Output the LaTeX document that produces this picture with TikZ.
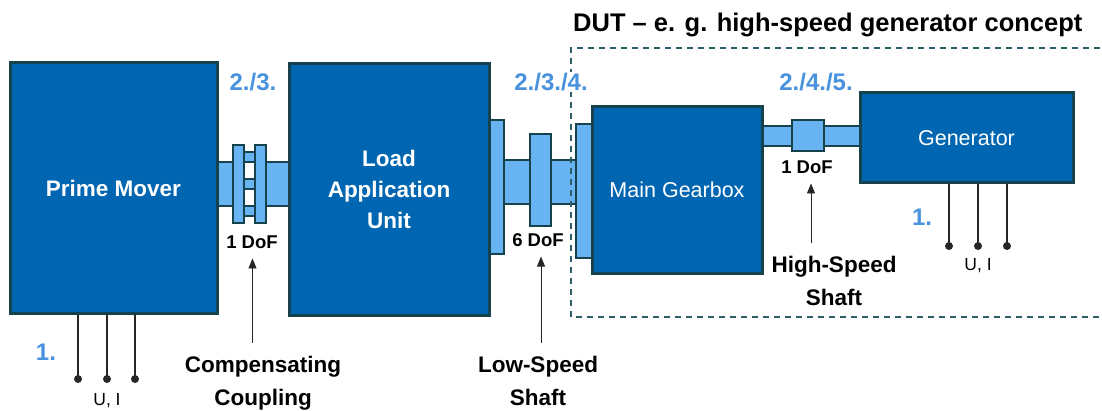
\documentclass[tikz,border=0pt]{standalone}
\usepackage{fontspec}
\setmainfont{Liberation Sans}
\usepackage{tikz}
\usetikzlibrary{arrows.meta,calc}
\definecolor{mainblue}{RGB}{0,102,178}
\definecolor{edgeteal}{RGB}{22,66,78}
\definecolor{partblue}{RGB}{104,180,242}
\definecolor{stepblue}{RGB}{72,146,222}
\definecolor{dutteal}{RGB}{45,95,105}
\newcommand{\fsz}[2]{\fontsize{#1}{#2}\selectfont}
\tikzset{
  mainblk/.style={draw=edgeteal, fill=mainblue, line width=3pt, text=white,
                  align=center, inner sep=0pt},
  shaftpart/.style={draw=edgeteal, fill=partblue, line width=1.4pt},
  steplbl/.style={text=stepblue, font=\bfseries\fsz{24}{28}, inner sep=1pt},
  doflbl/.style={font=\bfseries\fsz{18.5}{22}, inner sep=2pt, outer ysep=8pt},
  namelbl/.style={font=\bfseries\fsz{22.5}{33}, align=center, inner sep=2pt, outer ysep=11pt},
  uilbl/.style={font=\fsz{17.5}{20}, inner sep=1pt},
  ptrarr/.style={-{Triangle[length=10pt,width=8pt]}, line width=0.9pt, black!85},
  wire/.style={line width=1.2pt, black!85},
  dutline/.style={dutteal, line width=1.3pt, dash pattern=on 6pt off 5pt},
}

\begin{document}
\begin{tikzpicture}[x=1pt, y=1pt]
  \useasboundingbox (0,0) rectangle (1102,410);
  % coupling between prime mover and load unit
  \draw[shaftpart] (215,204) rectangle (233,248);
  \draw[shaftpart] (266,204) rectangle (291,248);
  \draw[shaftpart] (233,187) rectangle (244,265);
  \draw[shaftpart] (255,187) rectangle (266,265);
  \foreach \yb in {194,221,248}{\draw[shaftpart] (244,\yb) rectangle (255,\yb+10);}
  % low-speed shaft
  \draw[shaftpart] (504,206) rectangle (577,250);
  \draw[shaftpart] (489,156) rectangle (504,290);
  \draw[shaftpart] (530,184) rectangle (551,276);
  \draw[shaftpart] (576,152) rectangle (594,286);
  % high-speed shaft
  \draw[shaftpart] (760,264) rectangle (862,284);
  \draw[shaftpart] (792,259) rectangle (824,290);

  \node[mainblk, minimum width=207pt, minimum height=250pt, font=\bfseries\fsz{22.5}{31}]
    (pm) at (113.5,222) {Prime Mover};
  \node[mainblk, minimum width=200pt, minimum height=251pt, font=\bfseries\fsz{22.5}{31}]
    (lau) at (389,220.5) {Load\\Application\\Unit};
  \node[mainblk, minimum width=170pt, minimum height=166pt, font=\fsz{21.5}{26}]
    (mg) at (677,220) {Main Gearbox};
  \node[mainblk, minimum width=213pt, minimum height=90pt, font=\fsz{21.5}{26}]
    (gen) at (966.5,272) {Generator};

  \draw[dutline] (1100,362) -- (571,362) -- (571,93) -- (1100,93);
  \node[font=\bfseries\fsz{25.5}{30}, anchor=west, inner sep=0pt] (dut) at (573,385)
    {DUT – e. g. high-speed generator concept};

  \node[steplbl] (s23) at (253,328) {2./3.};
  \node[steplbl, fill=white] (s234) at (551,328) {2./3./4.};
  \node[steplbl] (s245) at (816,328) {2./4./5.};
  \node[steplbl] (s1a) at (46,58) {1.};
  \node[steplbl] (s1b) at (922,193) {1.};

  \node[doflbl] (dofa) at (252,168) {1 DoF};
  \node[doflbl] (dofb) at (538,170) {6 DoF};
  \node[doflbl] (dofc) at (807,243) {1 DoF};
  \node[namelbl] (cc) at (263,27) {Compensating\\Coupling};
  \node[namelbl] (ls) at (538,29) {Low-Speed\\Shaft};
  \node[namelbl] (hs) at (834,129.2) {High-Speed\\Shaft};

  \coordinate (cctip) at ([xshift=0.5pt]dofa.south);
  \coordinate (lstip) at ([xshift=3pt]dofb.south);
  \coordinate (hstip) at ([xshift=4pt]dofc.south);
  \draw[ptrarr] (cctip |- cc.north) -- (cctip);
  \draw[ptrarr] (lstip |- ls.north) -- (lstip);
  \draw[ptrarr] (hstip |- hs.north) -- (hstip);

  \foreach \i/\xw in {1/78,2/107,3/135}{
    \coordinate (pmw\i) at (\xw,31);
    \draw[wire] (pmw\i |- pm.south) -- (pmw\i);
    \fill[black!85] (pmw\i) circle (4pt);
  }
  \foreach \i/\xw in {1/949,2/978,3/1007}{
    \coordinate (genw\i) at (\xw,164);
    \draw[wire] (genw\i |- gen.south) -- (genw\i);
    \fill[black!85] (genw\i) circle (4pt);
  }
  \node[uilbl] (uia) at (107,9) {U, I};
  \node[uilbl] (uib) at (978,144.5) {U, I};
\end{tikzpicture}
\end{document}
